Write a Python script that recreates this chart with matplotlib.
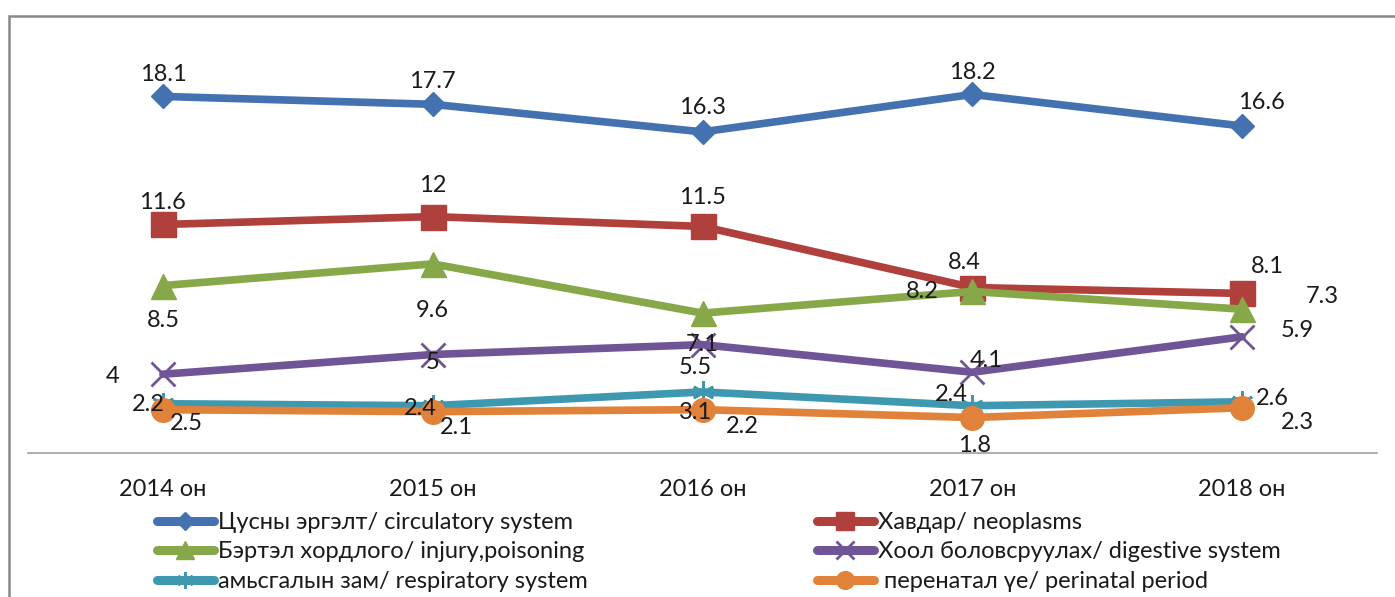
import numpy as np
import matplotlib
matplotlib.use('Agg')
import matplotlib.pyplot as plt
from matplotlib.patches import Rectangle

plt.rcParams['font.family'] = ['Lato', 'DejaVu Sans']

years = ['2014 он', '2015 он', '2016 он', '2017 он', '2018 он']

circulatory = [18.1, 17.7, 16.3, 18.2, 16.6]
neoplasms = [11.6, 12, 11.5, 8.4, 8.1]
injury = [8.5, 9.6, 7.1, 8.2, 7.3]
digestive = [4, 5, 5.5, 4.1, 5.9]
respiratory = [2.5, 2.4, 3.1, 2.4, 2.6]
perinatal = [2.2, 2.1, 2.2, 1.8, 2.3]

names = ['Цусны эргэлт/ circulatory system', 'Хавдар/ neoplasms',
         'Бэртэл хордлого/ injury,poisoning', 'Хоол боловсруулах/ digestive system',
         'амьсгалын зам/ respiratory system', ' перенатал үе/ perinatal period']

# style per series: colour, marker, marker size
styles = [('#4472B0', 'D', 12, circulatory),
          ('#B0403C', 's', 18, neoplasms),
          ('#86A848', '^', 18, injury),
          ('#6F5596', 'x', 17, digestive),
          ('#3E99B0', (6, 2, 0), 16, respiratory),
          ('#E0823A', 'o', 17, perinatal)]

# label offsets in pixels (dx, dy) from each point
offsets = [
    [(0, 22), (0, 23), (0, 24), (0, 22), (19, 23)],
    [(0, 22), (0, 31), (0, 29), (-8, 25), (25, 27)],
    [(0, -35), (0, -47), (0, -31), (-50, 0), (80, 13)],
    [(-50, -2), (0, -8), (-7, -23), (14, 12), (55, 6)],
    [(23, -20), (-12, -3), (-7, -21), (-21, 11), (30, 3)],
    [(-15, 5), (24, -16), (40, -17), (2, -28), (55, -15)],
]

fig = plt.figure(figsize=(13.95, 5.97), dpi=100)
W, H = 1395, 597
ax = fig.add_axes([28 / W, 1 - 453 / H, (1377 - 28) / W, (453 - 59) / H])

x = np.arange(len(years))
handles = []
for (color, marker, ms, vals), name in zip(styles, names):
    mew = 2 if marker in ('x',) or isinstance(marker, tuple) else 1
    h, = ax.plot(x, vals, color=color, lw=5.5, marker=marker, markersize=ms,
                 markerfacecolor=color, markeredgecolor=color, markeredgewidth=mew,
                 label=name, solid_capstyle='round', zorder=3)
    handles.append(h)

for (color, marker, ms, vals), offs in zip(styles, offsets):
    for i, v in enumerate(vals):
        dx, dy = offs[i]
        ax.annotate(f'{v:g}', xy=(i, v), xytext=(dx * 0.72, dy * 0.72),
                    textcoords='offset points', ha='center', va='center',
                    fontsize=17, color='#1a1a1a', zorder=5)

ax.set_xlim(-0.5, 4.5)
ax.set_ylim(0, 20)
ax.set_xticks(x)
ax.set_xticklabels(years, fontsize=17, color='#1a1a1a')
ax.tick_params(axis='x', length=0, pad=19)
ax.set_yticks([])
for s in ['left', 'right', 'top']:
    ax.spines[s].set_visible(False)
ax.spines['bottom'].set_color('#a0a0a0')
ax.spines['bottom'].set_linewidth(1.2)
ax.patch.set_visible(False)

# legend in two columns placed separately
leg_kw = dict(frameon=False, fontsize=17, handlelength=2.4, handletextpad=0.2,
              labelspacing=0.36, borderpad=0, borderaxespad=0)
leg1 = fig.legend([handles[0], handles[2], handles[4]], [names[0], names[2], names[4]],
                  loc='upper left', bbox_to_anchor=(157 / W, 1 - 512 / H), **leg_kw)
leg2 = fig.legend([handles[1], handles[3], handles[5]], [names[1], names[3], names[5]],
                  loc='upper left', bbox_to_anchor=(817 / W, 1 - 512 / H), **leg_kw)
for leg in (leg1, leg2):
    for lh in leg.legend_handles:
        lh.set_markersize(lh.get_markersize() * 0.75)
        lh.set_linewidth(6.5)
    for t in leg.get_texts():
        t.set_color('#1a1a1a')

# outer chart frame, cropped at right and bottom
fig.add_artist(Rectangle((9 / W, -0.1), 1.2, 1 - 16 / H + 0.1, transform=fig.transFigure,
                         fill=False, edgecolor='#888888', lw=1.8))

fig.savefig('out.png', dpi=100)
